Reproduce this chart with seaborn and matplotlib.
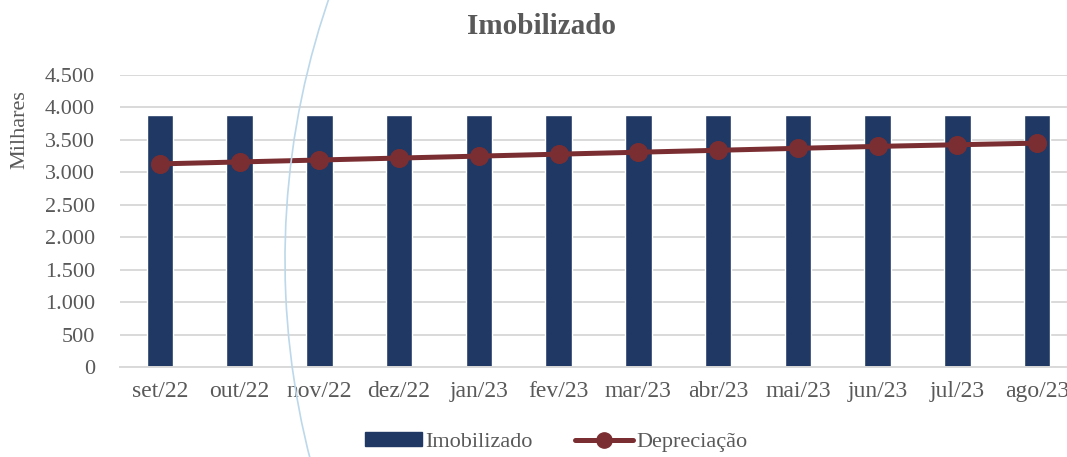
import numpy as np
import pandas as pd
import matplotlib
matplotlib.use("Agg")
from matplotlib import pyplot as plt
from matplotlib.patches import Arc, Patch
from matplotlib.lines import Line2D
import seaborn as sns

# Data (milhares)
months = ["set/22", "out/22", "nov/22", "dez/22", "jan/23", "fev/23",
          "mar/23", "abr/23", "mai/23", "jun/23", "jul/23", "ago/23"]
imobilizado = [3880, 3880, 3880, 3880, 3880, 3880, 3880, 3880, 3880, 3880, 3880, 3880]
depreciacao = [3130, 3160, 3190, 3220, 3250, 3280, 3310, 3340, 3370, 3400, 3425, 3450]

sns.set_style("white")
plt.rcParams['font.family'] = ['Liberation Serif', 'DejaVu Serif']

navy = "#1F3864"
wine = "#7B2E31"
txt = "#595959"

df = pd.DataFrame({"mes": months, "Imobilizado": imobilizado, "Depreciação": depreciacao})

fig = plt.figure(figsize=(10.67, 4.57), dpi=100)
ax = fig.add_axes([120 / 1067, 90 / 457, 957 / 1067, 292 / 457])

# decorative arc in the background
arc = Arc((1085, 197), 1600, 1600, theta1=150, theta2=215,
          transform=None, color="#BCD8EA", lw=1.2, zorder=0)
fig.patches.append(arc)

sns.barplot(data=df, x="mes", y="Imobilizado", order=months, color=navy,
            width=0.33, saturation=1, ax=ax, zorder=2)
sns.pointplot(data=df, x="mes", y="Depreciação", order=months, color=wine,
              markers="o", markersize=11, linewidth=3.6, errorbar=None,
              ax=ax, zorder=3)

ax.set_ylim(0, 4500)
ax.set_xlim(-0.5, 11.5)
ax.set_yticks(np.arange(0, 4501, 500))
ax.set_yticklabels([f"{v:,}".replace(",", ".") for v in range(0, 4501, 500)])
ax.yaxis.grid(True, color="#D9D9D9", lw=1.4, zorder=0)
ax.set_axisbelow(True)
for s in ["top", "right", "left"]:
    ax.spines[s].set_visible(False)
ax.spines["bottom"].set_color("#D9D9D9")
ax.spines["bottom"].set_linewidth(1.4)
ax.tick_params(axis="y", length=0, labelsize=16, colors=txt, pad=18)
ax.tick_params(axis="x", length=0, labelsize=17, colors=txt, pad=10)
ax.set_xlabel("")
ax.set_ylabel("")
ax.patch.set_alpha(0)

fig.text(20 / 1067, 1 - 130 / 457, "Milhares", rotation=90, fontsize=16,
         color=txt, ha="center", va="center")
fig.text(541 / 1067, 1 - 26 / 457, "Imobilizado", fontsize=21, fontweight="bold",
         color=txt, ha="center", va="center")

handles = [Patch(facecolor=navy, edgecolor=navy),
           Line2D([0], [0], color=wine, lw=3.6, marker="o", markersize=11)]
fig.legend(handles, ["Imobilizado", "Depreciação"], loc="center",
           bbox_to_anchor=(556 / 1067, 1 - 442 / 457), ncol=2, frameon=False,
           fontsize=16, labelcolor=txt, handlelength=2.6, handleheight=0.6,
           handletextpad=0.15, columnspacing=1.9)

fig.savefig("out.png", dpi=100)
